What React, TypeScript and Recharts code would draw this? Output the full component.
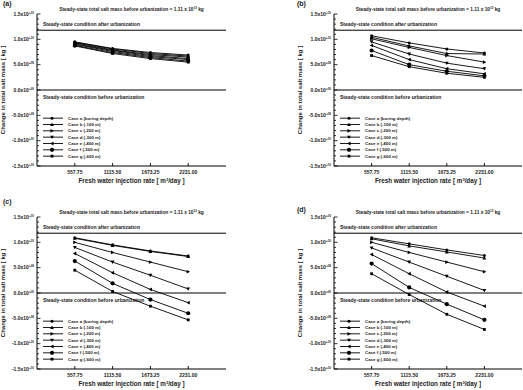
import React from "react";
import { LineChart, Line, XAxis, YAxis, ReferenceLine, Legend } from "recharts";

const FONT = "'Liberation Sans', Arial, sans-serif";

// x positions (fresh water injection rate, m3/day)
const injectionRates = [557.75, 1115.5, 1673.25, 2231.0];
const rateLabels = ["557.75", "1115.50", "1673.25", "2231.00"];

const caseKeys = ["a", "b", "c", "d", "e", "f", "g"];
const caseNames = [
  "Case a (boring depth)",
  "Case b (-100 m)",
  "Case c (-200 m)",
  "Case d (-300 m)",
  "Case e (-400 m)",
  "Case f (-500 m)",
  "Case g (-600 m)",
];
const caseShapes = ["circle", "up", "right", "down", "left", "hex", "square"];

// change in total salt mass, units of 1e10 kg
const panelA = [
  [0.95, 0.82, 0.74, 0.69],
  [0.94, 0.81, 0.72, 0.67],
  [0.93, 0.79, 0.7, 0.65],
  [0.91, 0.78, 0.68, 0.62],
  [0.9, 0.76, 0.66, 0.6],
  [0.88, 0.74, 0.64, 0.57],
  [0.87, 0.72, 0.62, 0.55],
];
const panelB = [
  [1.07, 0.93, 0.81, 0.73],
  [1.04, 0.87, 0.72, 0.71],
  [1.01, 0.84, 0.68, 0.55],
  [0.95, 0.71, 0.53, 0.42],
  [0.88, 0.6, 0.42, 0.32],
  [0.78, 0.5, 0.37, 0.28],
  [0.68, 0.46, 0.33, 0.25],
];
const panelC = [
  [1.09, 0.95, 0.83, 0.73],
  [1.08, 0.94, 0.82, 0.72],
  [1.0, 0.8, 0.61, 0.42],
  [0.9, 0.61, 0.35, 0.08],
  [0.78, 0.4, 0.07, -0.19],
  [0.63, 0.19, -0.13, -0.4],
  [0.45, 0.03, -0.26, -0.53],
];
const panelD = [
  [1.09, 0.97, 0.85, 0.74],
  [1.07, 0.93, 0.81, 0.69],
  [1.0, 0.8, 0.61, 0.42],
  [0.89, 0.61, 0.33, 0.05],
  [0.76, 0.38, 0.02, -0.26],
  [0.58, 0.11, -0.22, -0.53],
  [0.38, -0.03, -0.42, -0.72],
];

const afterUrbanization = 1.18;
const yMajorTicks = [-1.5, -1.0, -0.5, 0, 0.5, 1.0, 1.5];
const yAllTicks = [
  -1.5, -1.4, -1.3, -1.2, -1.1, -1.0, -0.9, -0.8, -0.7, -0.6, -0.5, -0.4, -0.3, -0.2, -0.1, 0,
  0.1, 0.2, 0.3, 0.4, 0.5, 0.6, 0.7, 0.8, 0.9, 1.0, 1.1, 1.2, 1.3, 1.4, 1.5,
];

function toRows(series: number[][]) {
  return injectionRates.map((x, i) => {
    const row: any = { x };
    caseKeys.forEach((k, j) => (row[k] = series[j][i]));
    return row;
  });
}

function Marker({ shape, cx, cy }: { shape: string; cx: number; cy: number }) {
  const s = 1.9;
  switch (shape) {
    case "circle":
      return <circle cx={cx} cy={cy} r={1.5} fill="#000" />;
    case "up":
      return <polygon points={`${cx},${cy - s} ${cx - s},${cy + s * 0.8} ${cx + s},${cy + s * 0.8}`} fill="#000" />;
    case "right":
      return <polygon points={`${cx + s},${cy} ${cx - s * 0.8},${cy - s} ${cx - s * 0.8},${cy + s}`} fill="#000" />;
    case "down":
      return <polygon points={`${cx},${cy + s} ${cx - s},${cy - s * 0.8} ${cx + s},${cy - s * 0.8}`} fill="#000" />;
    case "left":
      return <polygon points={`${cx - s},${cy} ${cx + s * 0.8},${cy - s} ${cx + s * 0.8},${cy + s}`} fill="#000" />;
    case "hex":
      return <circle cx={cx} cy={cy} r={2.1} fill="#000" />;
    default:
      return <rect x={cx - 1.4} y={cy - 1.4} width={2.8} height={2.8} fill="#000" />;
  }
}

function yLabelParts(v: number): [string, string] {
  if (Math.abs(v) < 1e-9) return ["0.0x10", "+00"];
  if (Math.abs(v) >= 1) return [v.toFixed(1) + "x10", "+10"];
  return [(v * 10).toFixed(1) + "x10", "+09"];
}

const isMajor = (v: number) => yMajorTicks.some((m) => Math.abs(m - v) < 1e-6);

function LeftTick(props: any) {
  const { x, y, payload } = props;
  const v = payload.value;
  const major = isMajor(v);
  const [mant, exp] = yLabelParts(v);
  return (
    <g>
      <line x1={x} y1={y} x2={x + (major ? 3.5 : 2)} y2={y} stroke="#000" strokeWidth={0.8} />
      {major && (
        <text x={x - 3} y={y + 1.8} textAnchor="end" fontSize={5} fontFamily={FONT} fontWeight="bold" fill="#222">
          {mant}
          <tspan dy={-2.3} fontSize={3}>
            {exp}
          </tspan>
        </text>
      )}
    </g>
  );
}

function RightTick(props: any) {
  const { x, y, payload } = props;
  const major = isMajor(payload.value);
  return <line x1={x} y1={y} x2={x - (major ? 3.5 : 2)} y2={y} stroke="#000" strokeWidth={0.8} />;
}

function BottomTick(props: any) {
  const { x, y, index } = props;
  return (
    <g>
      <line x1={x} y1={y} x2={x} y2={y - 3} stroke="#000" strokeWidth={0.9} />
      <text x={x} y={y + 8} textAnchor="middle" fontSize={5} fontFamily={FONT} fontWeight="bold" fill="#222">
        {rateLabels[index]}
      </text>
    </g>
  );
}

function TopTick(props: any) {
  const { x, y } = props;
  return <line x1={x} y1={y} x2={x} y2={y + 3} stroke="#000" strokeWidth={0.9} />;
}

function XTitle(props: any) {
  const { x, y, width } = props.viewBox;
  return (
    <text x={x + width / 2} y={y + 17} textAnchor="middle" fontSize={6.3} fontFamily={FONT} fontWeight="bold" fill="#222">
      Fresh water injection rate [ m
      <tspan dy={-2.3} fontSize={4}>
        3
      </tspan>
      <tspan dy={2.3}>/day ]</tspan>
    </text>
  );
}

function YTitle(props: any) {
  const { x, y, width, height } = props.viewBox;
  const cx = x + width - 32;
  const cy = y + height / 2;
  return (
    <text
      x={cx}
      y={cy}
      transform={`rotate(-90 ${cx} ${cy})`}
      textAnchor="middle"
      fontSize={6}
      fontFamily={FONT}
      fontWeight="bold"
      fill="#222"
    >
      Change in total salt mass [ kg ]
    </text>
  );
}

function TopTitle(props: any) {
  const { x, y, width } = props.viewBox;
  return (
    <text x={x + width / 2} y={y - 3} textAnchor="middle" fontSize={4.8} fontFamily={FONT} fontWeight="bold" fill="#222">
      Steady-state total salt mass before urbanization = 1.11 x 10
      <tspan dy={-2} fontSize={3}>
        10
      </tspan>
      <tspan dy={2}> kg</tspan>
    </text>
  );
}

function RefText(props: any) {
  const { viewBox, text, dy } = props;
  return (
    <text x={viewBox.x + 6} y={viewBox.y + dy} fontSize={5} fontFamily={FONT} fontWeight="bold" fill="#222">
      {text}
    </text>
  );
}

function CaseLegend() {
  const rowH = 6.33;
  return (
    <svg width={100} height={rowH * caseNames.length} style={{ display: "block" }}>
      {caseNames.map((name, i) => {
        const cy = rowH * i + rowH / 2;
        return (
          <g key={name}>
            <line x1={0} y1={cy} x2={20} y2={cy} stroke="#000" strokeWidth={0.9} />
            <Marker shape={caseShapes[i]} cx={9} cy={cy} />
            <text x={25} y={cy + 1.5} fontSize={4.4} fontFamily={FONT} fontWeight="bold" fill="#222">
              {name}
            </text>
          </g>
        );
      })}
    </svg>
  );
}

interface PanelProps {
  series: number[][];
  left: number;
  top: number;
  plotLeft: number;
  plotTop: number;
  plotWidth: number;
}

const W = 262;
const H = 195;
const PLOT_H = 152;
const XAXIS_H = 21;

function Panel({ series, left, top, plotLeft, plotTop, plotWidth }: PanelProps) {
  const data = toRows(series);
  return (
    <div style={{ position: "absolute", left, top, width: W, height: H }}>
      <LineChart
        width={W}
        height={H}
        data={data}
        margin={{ top: plotTop, left: 0, right: W - plotLeft - plotWidth, bottom: H - plotTop - PLOT_H - XAXIS_H }}
      >
        <XAxis
          dataKey="x"
          type="number"
          domain={[0, 2788.75]}
          ticks={injectionRates}
          interval={0}
          height={XAXIS_H}
          tickSize={0}
          tickMargin={0}
          tickLine={false}
          axisLine={{ stroke: "#000", strokeWidth: 1 }}
          tick={<BottomTick />}
          label={<XTitle />}
        />
        <XAxis
          xAxisId="top"
          orientation="top"
          dataKey="x"
          type="number"
          domain={[0, 2788.75]}
          ticks={injectionRates}
          interval={0}
          height={0}
          tickSize={0}
          tickMargin={0}
          tickLine={false}
          axisLine={{ stroke: "#000", strokeWidth: 1 }}
          tick={<TopTick />}
        />
        <YAxis
          type="number"
          domain={[-1.5, 1.5]}
          ticks={yAllTicks}
          interval={0}
          width={plotLeft}
          tickSize={0}
          tickMargin={0}
          tickLine={false}
          allowDataOverflow
          axisLine={{ stroke: "#000", strokeWidth: 1 }}
          tick={<LeftTick />}
          label={<YTitle />}
        />
        <YAxis
          yAxisId="right"
          orientation="right"
          type="number"
          domain={[-1.5, 1.5]}
          ticks={yAllTicks}
          interval={0}
          width={0}
          tickSize={0}
          tickMargin={0}
          tickLine={false}
          axisLine={{ stroke: "#000", strokeWidth: 1 }}
          tick={<RightTick />}
        />
        <ReferenceLine y={1.5} stroke="none" label={<TopTitle />} />
        <ReferenceLine
          y={afterUrbanization}
          stroke="#000"
          strokeWidth={1}
          label={<RefText text="Steady-state condition after urbanization" dy={-4} />}
        />
        <ReferenceLine
          y={0}
          stroke="#000"
          strokeWidth={1}
          label={<RefText text="Steady-state condition before urbanization" dy={9} />}
        />
        {caseKeys.map((k, i) => (
          <Line
            key={k}
            dataKey={k}
            name={caseNames[i]}
            stroke="#000"
            strokeWidth={0.9}
            isAnimationActive={false}
            dot={(p: any) => <Marker key={`${k}-${p.index}`} shape={caseShapes[i]} cx={p.cx} cy={p.cy} />}
          />
        ))}
        <Legend
          layout="horizontal"
          verticalAlign="middle"
          align="center"
          wrapperStyle={{ left: plotLeft + 6, top: plotTop + 101, width: 100, height: 45 }}
          content={() => <CaseLegend />}
        />
      </LineChart>
    </div>
  );
}

function PanelLetter({ text, x, y }: { text: string; x: number; y: number }) {
  return (
    <div
      style={{
        position: "absolute",
        left: x,
        top: y,
        fontFamily: FONT,
        fontWeight: "bold",
        fontSize: 7,
        lineHeight: "8px",
        color: "#222",
      }}
    >
      {text}
    </div>
  );
}

export default function App() {
  return (
    <div style={{ position: "absolute", left: 0, top: 0, width: 523, height: 390, background: "#fff", overflow: "hidden" }}>
      <Panel series={panelA} left={0} top={0} plotLeft={37} plotTop={14} plotWidth={189} />
      <Panel series={panelB} left={262} top={0} plotLeft={72} plotTop={14} plotWidth={188} />
      <Panel series={panelC} left={0} top={195} plotLeft={37} plotTop={22} plotWidth={189} />
      <Panel series={panelD} left={262} top={195} plotLeft={72} plotTop={22} plotWidth={188} />
      <PanelLetter text="(a)" x={3} y={0} />
      <PanelLetter text="(b)" x={297} y={0} />
      <PanelLetter text="(c)" x={3} y={198} />
      <PanelLetter text="(d)" x={297} y={206} />
    </div>
  );
}
